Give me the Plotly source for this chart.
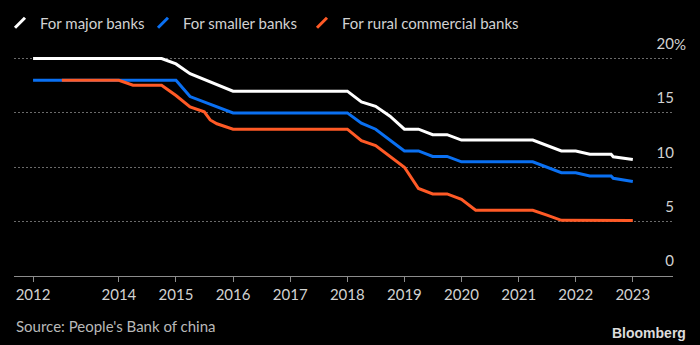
import plotly.graph_objects as go

# ---- data ----
major_dates = ["2012-07-01", "2014-10-01", "2015-01-01", "2015-04-01", "2016-01-01",
               "2018-01-01", "2018-04-01", "2018-07-01", "2018-10-01", "2019-01-01",
               "2019-04-01", "2019-07-01", "2019-10-01", "2020-01-01", "2021-04-01",
               "2021-07-01", "2021-10-01", "2022-01-01", "2022-04-01", "2022-08-15",
               "2022-08-29", "2023-01-01"]
major_vals = [20.0, 20.0, 19.5, 18.6, 17.0,
              17.0, 16.0, 15.6, 14.7, 13.5,
              13.5, 13.0, 13.0, 12.5, 12.5,
              12.0, 11.5, 11.5, 11.2, 11.2,
              10.96, 10.72]

smaller_dates = ["2012-07-01", "2015-01-01", "2015-04-01", "2015-07-01", "2016-01-01",
                 "2018-01-01", "2018-04-01", "2018-07-01", "2019-01-01", "2019-04-01",
                 "2019-07-01", "2019-10-01", "2020-01-01", "2021-04-01", "2021-07-01",
                 "2021-10-01", "2022-01-01", "2022-04-01", "2022-08-15", "2022-08-29",
                 "2023-01-01"]
smaller_vals = [18.0, 18.0, 16.5, 16.0, 15.0,
                15.0, 14.05, 13.5, 11.5, 11.5,
                11.0, 11.0, 10.5, 10.5, 10.0,
                9.5, 9.5, 9.2, 9.2, 8.98,
                8.7]

rural_dates = ["2013-01-01", "2014-01-01", "2014-04-01", "2014-10-01", "2015-01-01",
               "2015-04-01", "2015-07-01", "2015-08-08", "2015-09-20", "2016-01-01",
               "2018-01-01", "2018-04-01", "2018-07-01", "2018-10-01", "2019-01-01",
               "2019-04-01", "2019-07-01", "2019-10-01", "2020-01-01", "2020-04-01",
               "2021-04-01", "2021-07-01", "2021-10-01", "2023-01-01"]
rural_vals = [18.0, 18.0, 17.55, 17.55, 16.6,
              15.56, 15.1, 14.35, 14.0, 13.5,
              13.5, 12.45, 12.0, 11.0, 10.0,
              8.05, 7.55, 7.55, 7.05, 6.05,
              6.05, 5.6, 5.12, 5.1]

series_names = ["For major banks", "For smaller banks", "For rural commercial banks"]
series_colors = ["#ffffff", "#0a70f2", "#ff5a26"]

x_tick_dates = ["2012-07-01", "2014-01-01", "2015-01-01", "2016-01-01", "2017-01-01",
                "2018-01-01", "2019-01-01", "2020-01-01", "2021-01-01", "2022-01-01",
                "2023-01-01"]
x_tick_labels = ["2012", "2014", "2015", "2016", "2017", "2018", "2019", "2020",
                 "2021", "2022", "2023"]
y_tick_vals = [0, 5, 10, 15, 20]
y_tick_labels = ["0", "5", "10", "15", "20"]

FONT = "Lato"
TXT = "#d2d2d2"

fig = go.Figure()
all_series = [(major_dates, major_vals), (smaller_dates, smaller_vals), (rural_dates, rural_vals)]
for (xs, ys), name, col in zip(all_series, series_names, series_colors):
    fig.add_trace(go.Scatter(x=xs, y=ys, mode="lines", name=name,
                             line=dict(color=col, width=3), showlegend=False,
                             hoverinfo="skip"))

legend_ids = ["legend", "legend2", "legend3"]
for name, col, lid in zip(series_names, series_colors, legend_ids):
    fig.add_trace(go.Scatter(x=[None], y=[None], mode="markers", name=name,
                             marker=dict(symbol="line-ne", size=10, color=col,
                                         line=dict(color=col, width=3)),
                             legend=lid, showlegend=True))

def leg(xpx):
    return dict(x=xpx / 700, y=1 - 23 / 345, xref="container", yref="container",
                xanchor="left", yanchor="middle", orientation="h",
                bgcolor="rgba(0,0,0,0)", borderwidth=0,
                font=dict(family=FONT, size=15, color=TXT))

fig.update_layout(
    width=700, height=345,
    paper_bgcolor="#000000", plot_bgcolor="#000000",
    margin=dict(l=14, r=27, t=52, b=69, autoexpand=False),
    font=dict(family=FONT, size=15, color=TXT),
    legend=leg(-3), legend2=leg(143), legend3=leg(302),
    xaxis=dict(type="date", range=["2012-03-01", "2023-09-15"],
               tickvals=x_tick_dates, ticktext=x_tick_labels,
               showgrid=False, zeroline=False, showline=True,
               linecolor="#8c8c8c", linewidth=1, automargin=False,
               ticks="outside", ticklen=5, tickcolor="#8c8c8c", tickwidth=1,
               tickfont=dict(family=FONT, size=15, color=TXT), fixedrange=True),
    yaxis=dict(range=[0, 20.6], side="right", automargin=False,
               tickvals=y_tick_vals, ticktext=y_tick_labels,
               ticklabelposition="inside", ticklabelshift=-15,
               ticklabelstandoff=-4, ticklabeloverflow="allow",
               showgrid=True, gridcolor="#6a6a6a", gridwidth=1, griddash="2px,2px",
               zeroline=False, showline=False, ticks="",
               tickfont=dict(family=FONT, size=15, color=TXT), fixedrange=True),
    annotations=[
        dict(text="%", xref="paper", yref="y", x=1, y=20, xanchor="left",
             yanchor="middle", xshift=-1, yshift=15, showarrow=False,
             font=dict(family=FONT, size=15, color=TXT)),
        dict(text="Source: People's Bank of china", xref="paper", yref="paper",
             x=0, y=0, xanchor="left", yanchor="middle", xshift=0, yshift=-50,
             showarrow=False, font=dict(family=FONT, size=15, color="#b9b9b9")),
        dict(text="<b>Bloomberg</b>", xref="paper", yref="paper",
             x=1, y=0, xanchor="right", yanchor="middle", xshift=15, yshift=-57,
             showarrow=False, font=dict(family="Liberation Sans", size=14, color="#dcdcdc")),
    ],
)

fig.write_html("out.html")
